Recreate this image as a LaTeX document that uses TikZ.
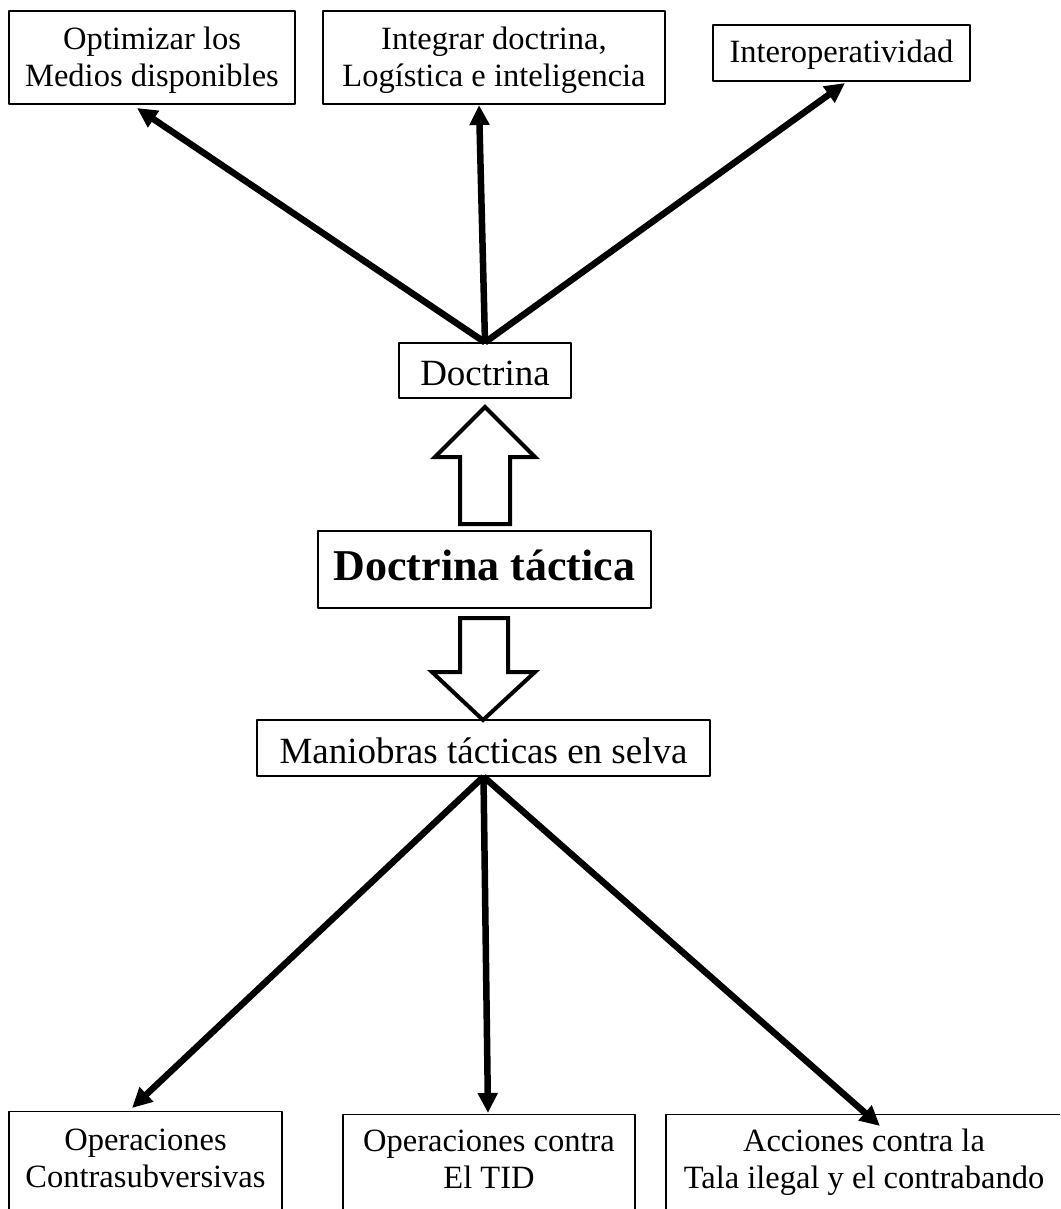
\documentclass[tikz,border=0pt]{standalone}
\usepackage{fontspec}
\setmainfont{Liberation Serif}
\usetikzlibrary{arrows.meta}

\tikzset{
  caja/.style={draw=black,line width=1.3pt,align=center,inner sep=0pt,font=\fontsize{32.5}{37}\selectfont},
  cajabaja/.style={caja,anchor=north,text depth=40pt},
  flecha/.style={->,line width=6.5pt},
  bloque/.style={draw=black,line width=4pt,fill=white,line join=miter}
}

\begin{document}
\begin{tikzpicture}[line cap=butt,line join=round,>={Triangle[length=20pt,width=19pt]},x=1pt,y=-1pt]
\useasboundingbox (0,0) rectangle (1060,1209);
\clip (0,0) rectangle (1060,1209);

% fines de la doctrina
\node[caja,minimum width=286pt,text height=76pt,text depth=17pt] (optim) at (152,57.5) {Optimizar los\\Medios disponibles};
\node[caja,minimum width=342pt,text height=76pt,text depth=17pt] (integ) at (494,57.5) {Integrar doctrina,\\Logística e inteligencia};
\node[caja,minimum width=257pt,text height=38pt,text depth=18pt] (inter) at (841.5,53) {Interoperatividad};

% centro
\node[caja,minimum width=172pt,text height=42pt,text depth=13pt,font=\fontsize{37}{42}\selectfont] (doc) at (485,370.5) {Doctrina};
\node[caja,minimum width=333pt,text height=49pt,text depth=28pt,font=\fontsize{44}{50}\selectfont\bfseries] (doctac) at (484.5,569.5) {Doctrina táctica};
\node[caja,minimum width=453pt,text height=43pt,text depth=13pt,font=\fontsize{37}{42}\selectfont] (maniob) at (483.5,748) {Maniobras tácticas en selva};

% maniobras
\node[cajabaja,minimum width=273pt,text height=76pt] (contsub) at (145.5,1111) {Operaciones\\Contrasubversivas};
\node[cajabaja,minimum width=292pt,text height=74pt] (tid) at (489,1114) {Operaciones contra\\El TID};
\node[cajabaja,minimum width=396pt,text height=74pt] (tala) at (864,1114) {Acciones contra la\\Tala ilegal y el contrabando};

% puntas de las flechas
\coordinate (pOptim) at (137,108);
\coordinate (pInteg) at (479,105);
\coordinate (pInter) at (845,83);
\coordinate (pContsub) at (132,1108);
\coordinate (pTid) at (488,1113);
\coordinate (pTala) at (880,1126);

\draw[flecha] (doc.north) -- (pOptim);
\draw[flecha] (doc.north) -- (pInteg);
\draw[flecha] (doc.north) -- (pInter);

\draw[flecha] (maniob.south) -- (pContsub);
\draw[flecha] (maniob.south) -- (pTid);
\draw[flecha] (maniob.south) -- (pTala);

% flechas de bloque
\draw[bloque] (460,524) -- (460,457) -- (435,457) -- (485,407) -- (535,457) -- (510,457) -- (510,524) -- cycle;
\draw[bloque] (460,618) -- (460,672) -- (432,672) -- (483,720) -- (535,672) -- (508,672) -- (508,618) -- cycle;
\end{tikzpicture}
\end{document}
